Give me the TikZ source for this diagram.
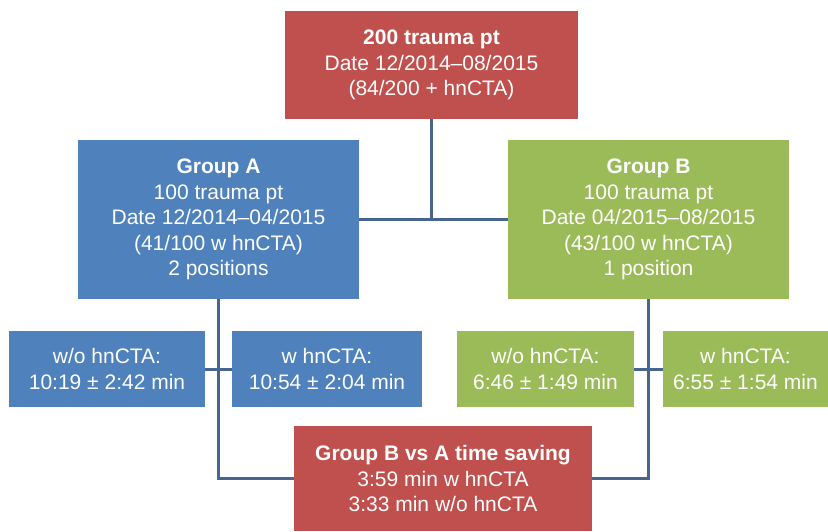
\documentclass[tikz,border=0pt]{standalone}
\usepackage{fontspec}
\setmainfont{Liberation Sans}
\definecolor{cred}{HTML}{C0504D}
\definecolor{cblue}{HTML}{4F81BD}
\definecolor{cgreen}{HTML}{9BBB59}
\definecolor{cline}{HTML}{46658F}
\begin{document}
\begin{tikzpicture}[x=1pt,y=-1pt,
  box/.style={inner sep=0pt, text=white, align=center, font=\fontsize{21}{25.6}\selectfont},
  conn/.style={draw=cline, line width=3pt}]
\useasboundingbox (0,0) rectangle (828,531);
\node[box, fill=cred, minimum width=293pt, minimum height=108pt] (top) at (431.5,65)
  {\textbf{200 trauma pt}\\Date 12/2014--08/2015\\(84/200 + hnCTA)};
\node[box, fill=cblue, minimum width=281pt, minimum height=159pt] (A) at (218.5,219.5)
  {\textbf{Group A}\\100 trauma pt\\Date 12/2014--04/2015\\(41/100 w hnCTA)\\2 positions};
\node[box, fill=cgreen, minimum width=281pt, minimum height=159pt] (B) at (648.5,219.5)
  {\textbf{Group B}\\100 trauma pt\\Date 04/2015--08/2015\\(43/100 w hnCTA)\\1 position};
\node[box, fill=cblue, minimum width=196pt, minimum height=76pt] (al) at (107,369)
  {w/o hnCTA:\\10:19 ± 2:42 min};
\node[box, fill=cblue, minimum width=190pt, minimum height=76pt] (ar) at (327,369)
  {w hnCTA:\\10:54 ± 2:04 min};
\node[box, fill=cgreen, minimum width=177pt, minimum height=76pt] (bl) at (545.5,369)
  {w/o hnCTA:\\6:46 ± 1:49 min};
\node[box, fill=cgreen, minimum width=165pt, minimum height=76pt] (br) at (745.5,369)
  {w hnCTA:\\6:55 ± 1:54 min};
\node[box, fill=cred, minimum width=298pt, minimum height=105pt] (bot) at (443,478.5)
  {\textbf{Group B vs A time saving}\\3:59 min w hnCTA\\3:33 min w/o hnCTA};
\coordinate (tj) at (top.south |- A.east);
\draw[conn] (top.south) -- (tj);
\draw[conn] (A.east) -- (B.west);
\draw[conn] (A.south) |- (bot.west);
\draw[conn] (B.south) |- (bot.east);
\draw[conn] (al.east) -- (ar.west);
\draw[conn] (bl.east) -- (br.west);
\end{tikzpicture}
\end{document}
